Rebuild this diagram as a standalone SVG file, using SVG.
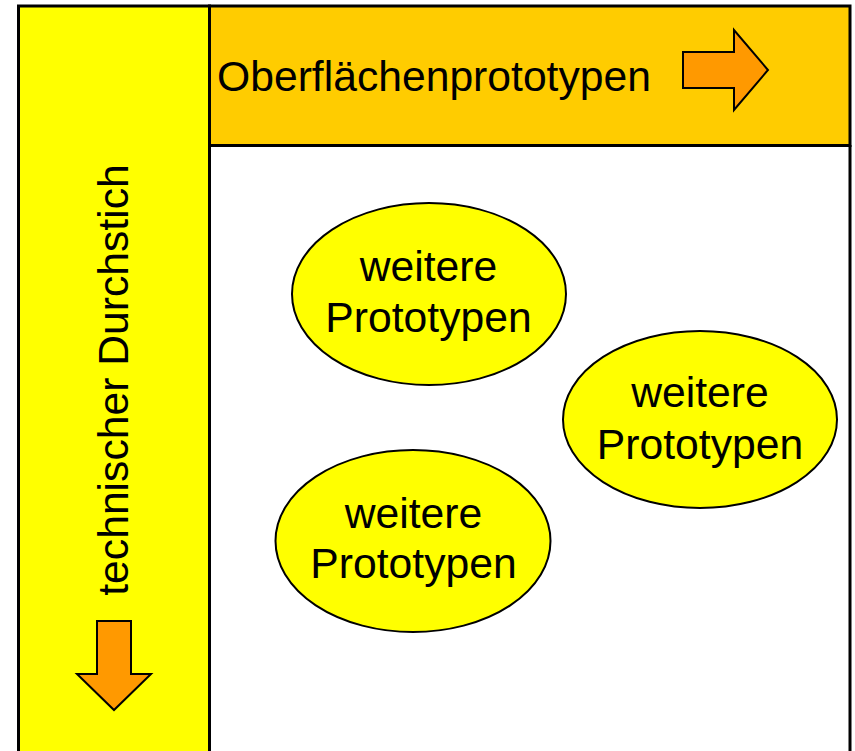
<svg xmlns="http://www.w3.org/2000/svg" width="855" height="751" viewBox="0 0 855 751">
  <style>
    .lbl { font-family: "Liberation Sans", Arial, sans-serif; font-size: 42.67px; fill: #000; }
    .mid { text-anchor: middle; }
    .frame { stroke: #000; stroke-width: 3; }
    .bubble { fill: #FFFF00; stroke: #000; stroke-width: 2; }
    .arrow { fill: #FF9900; stroke: #000; stroke-width: 2; stroke-linejoin: miter; }
  </style>

  <rect width="855" height="751" fill="#FFFFFF"/>

  <!-- left column: technical cut-through -->
  <g id="column-durchstich">
    <rect x="18.5" y="6" width="191" height="760" fill="#FFFF00" class="frame"/>
    <text class="lbl mid" transform="translate(128,380) rotate(-90)">technischer Durchstich</text>
    <polygon class="arrow" points="97,621 131,621 131,674 151,674 114,710 77,674 97,674"/>
  </g>

  <!-- top band: surface prototypes -->
  <g id="band-oberflaeche">
    <rect x="209.5" y="6" width="640.5" height="139.5" fill="#FFCC00" class="frame"/>
    <text class="lbl" x="217" y="90.7">Oberflächenprototypen</text>
    <polygon class="arrow" points="683,52 734,52 734,30 768,70 734,110 734,88 683,88"/>
  </g>

  <!-- right border of the white work area -->
  <g id="frame-right">
    <line x1="850" y1="145" x2="850" y2="760" class="frame"/>
  </g>

  <g id="proto-1">
    <ellipse class="bubble" cx="429" cy="294" rx="137" ry="91"/>
    <text class="lbl mid" x="428.5" y="280.7">weitere</text>
    <text class="lbl mid" x="428.5" y="331.7">Prototypen</text>
  </g>

  <g id="proto-2">
    <ellipse class="bubble" cx="700" cy="419.5" rx="137" ry="88.5"/>
    <text class="lbl mid" x="700" y="407.3">weitere</text>
    <text class="lbl mid" x="700" y="459.3">Prototypen</text>
  </g>

  <g id="proto-3">
    <ellipse class="bubble" cx="413" cy="541" rx="137.5" ry="91"/>
    <text class="lbl mid" x="413.5" y="528.3">weitere</text>
    <text class="lbl mid" x="413.5" y="578.3">Prototypen</text>
  </g>

  <g id="connectors"/>
</svg>
